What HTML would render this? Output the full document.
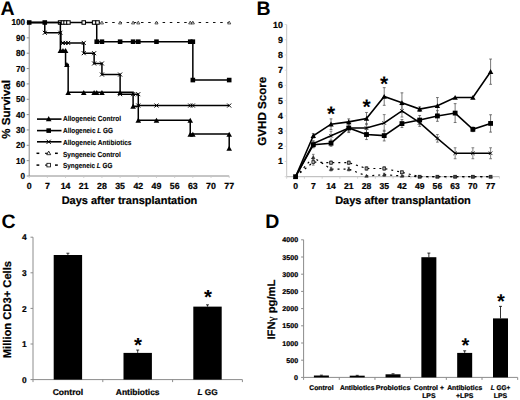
<!DOCTYPE html>
<html><head><meta charset="utf-8"><style>
html,body{margin:0;padding:0;background:#fff;}
body{width:520px;height:400px;overflow:hidden;}
svg{display:block;font-family:"Liberation Sans", sans-serif;text-rendering:geometricPrecision;}
text{stroke:#000;stroke-width:0.22px;}
</style></head><body>
<svg width="520" height="400" viewBox="0 0 520 400">
<rect width="520" height="400" fill="#fff"/>
<text x="0.6" y="15.1" font-size="19.5" text-anchor="start" font-weight="bold" style="stroke:none">A</text>
<line x1="29.2" y1="22.5" x2="29.2" y2="176" stroke="#8c8c8c" stroke-width="1" />
<line x1="29.2" y1="176" x2="229.2" y2="176" stroke="#8c8c8c" stroke-width="1" />
<line x1="26.7" y1="176" x2="29.2" y2="176" stroke="#8c8c8c" stroke-width="1" />
<text x="25.1" y="178.95" font-size="8.7" text-anchor="end" font-weight="bold"  textLength="4.55" lengthAdjust="spacingAndGlyphs">0</text>
<line x1="26.7" y1="160.65" x2="29.2" y2="160.65" stroke="#8c8c8c" stroke-width="1" />
<text x="25.1" y="163.6" font-size="8.7" text-anchor="end" font-weight="bold"  textLength="9.1" lengthAdjust="spacingAndGlyphs">10</text>
<line x1="26.7" y1="145.3" x2="29.2" y2="145.3" stroke="#8c8c8c" stroke-width="1" />
<text x="25.1" y="148.25" font-size="8.7" text-anchor="end" font-weight="bold"  textLength="9.1" lengthAdjust="spacingAndGlyphs">20</text>
<line x1="26.7" y1="129.95" x2="29.2" y2="129.95" stroke="#8c8c8c" stroke-width="1" />
<text x="25.1" y="132.9" font-size="8.7" text-anchor="end" font-weight="bold"  textLength="9.1" lengthAdjust="spacingAndGlyphs">30</text>
<line x1="26.7" y1="114.6" x2="29.2" y2="114.6" stroke="#8c8c8c" stroke-width="1" />
<text x="25.1" y="117.55" font-size="8.7" text-anchor="end" font-weight="bold"  textLength="9.1" lengthAdjust="spacingAndGlyphs">40</text>
<line x1="26.7" y1="99.25" x2="29.2" y2="99.25" stroke="#8c8c8c" stroke-width="1" />
<text x="25.1" y="102.2" font-size="8.7" text-anchor="end" font-weight="bold"  textLength="9.1" lengthAdjust="spacingAndGlyphs">50</text>
<line x1="26.7" y1="83.9" x2="29.2" y2="83.9" stroke="#8c8c8c" stroke-width="1" />
<text x="25.1" y="86.85" font-size="8.7" text-anchor="end" font-weight="bold"  textLength="9.1" lengthAdjust="spacingAndGlyphs">60</text>
<line x1="26.7" y1="68.55" x2="29.2" y2="68.55" stroke="#8c8c8c" stroke-width="1" />
<text x="25.1" y="71.5" font-size="8.7" text-anchor="end" font-weight="bold"  textLength="9.1" lengthAdjust="spacingAndGlyphs">70</text>
<line x1="26.7" y1="53.2" x2="29.2" y2="53.2" stroke="#8c8c8c" stroke-width="1" />
<text x="25.1" y="56.15" font-size="8.7" text-anchor="end" font-weight="bold"  textLength="9.1" lengthAdjust="spacingAndGlyphs">80</text>
<line x1="26.7" y1="37.85" x2="29.2" y2="37.85" stroke="#8c8c8c" stroke-width="1" />
<text x="25.1" y="40.8" font-size="8.7" text-anchor="end" font-weight="bold"  textLength="9.1" lengthAdjust="spacingAndGlyphs">90</text>
<line x1="26.7" y1="22.5" x2="29.2" y2="22.5" stroke="#8c8c8c" stroke-width="1" />
<text x="25.1" y="25.45" font-size="8.7" text-anchor="end" font-weight="bold"  textLength="13.65" lengthAdjust="spacingAndGlyphs">100</text>
<line x1="29.2" y1="176" x2="29.2" y2="178" stroke="#c8c8c8" stroke-width="0.8" />
<text x="29.2" y="189.3" font-size="8.8" text-anchor="middle" font-weight="bold" >0</text>
<line x1="47.38" y1="176" x2="47.38" y2="178" stroke="#c8c8c8" stroke-width="0.8" />
<text x="47.38" y="189.3" font-size="8.8" text-anchor="middle" font-weight="bold" >7</text>
<line x1="65.56" y1="176" x2="65.56" y2="178" stroke="#c8c8c8" stroke-width="0.8" />
<text x="65.56" y="189.3" font-size="8.8" text-anchor="middle" font-weight="bold" >14</text>
<line x1="83.75" y1="176" x2="83.75" y2="178" stroke="#c8c8c8" stroke-width="0.8" />
<text x="83.75" y="189.3" font-size="8.8" text-anchor="middle" font-weight="bold" >21</text>
<line x1="101.93" y1="176" x2="101.93" y2="178" stroke="#c8c8c8" stroke-width="0.8" />
<text x="101.93" y="189.3" font-size="8.8" text-anchor="middle" font-weight="bold" >28</text>
<line x1="120.11" y1="176" x2="120.11" y2="178" stroke="#c8c8c8" stroke-width="0.8" />
<text x="120.11" y="189.3" font-size="8.8" text-anchor="middle" font-weight="bold" >35</text>
<line x1="138.29" y1="176" x2="138.29" y2="178" stroke="#c8c8c8" stroke-width="0.8" />
<text x="138.29" y="189.3" font-size="8.8" text-anchor="middle" font-weight="bold" >42</text>
<line x1="156.47" y1="176" x2="156.47" y2="178" stroke="#c8c8c8" stroke-width="0.8" />
<text x="156.47" y="189.3" font-size="8.8" text-anchor="middle" font-weight="bold" >49</text>
<line x1="174.65" y1="176" x2="174.65" y2="178" stroke="#c8c8c8" stroke-width="0.8" />
<text x="174.65" y="189.3" font-size="8.8" text-anchor="middle" font-weight="bold" >56</text>
<line x1="192.84" y1="176" x2="192.84" y2="178" stroke="#c8c8c8" stroke-width="0.8" />
<text x="192.84" y="189.3" font-size="8.8" text-anchor="middle" font-weight="bold" >63</text>
<line x1="211.02" y1="176" x2="211.02" y2="178" stroke="#c8c8c8" stroke-width="0.8" />
<text x="211.02" y="189.3" font-size="8.8" text-anchor="middle" font-weight="bold" >70</text>
<line x1="229.2" y1="176" x2="229.2" y2="178" stroke="#c8c8c8" stroke-width="0.8" />
<text x="229.2" y="189.3" font-size="8.8" text-anchor="middle" font-weight="bold" >77</text>
<text x="129.5" y="203.8" font-size="11" text-anchor="middle" font-weight="bold" >Days after transplantation</text>
<text transform="translate(10.2,109.4) rotate(-90)" font-size="11.6" font-weight="bold" text-anchor="middle">% Survival</text>
<line x1="29.2" y1="22.5" x2="229.2" y2="22.5" stroke="#111" stroke-width="1.2" stroke-dasharray="2.5 4.7" stroke-dashoffset="-3.8"/>
<path d="M101.93 21.1 L103.53 23.98 L100.33 23.98Z" fill="#ddd" stroke="#222" stroke-width="0.7"/>
<path d="M120.11 21.1 L121.71 23.98 L118.51 23.98Z" fill="#ddd" stroke="#222" stroke-width="0.7"/>
<path d="M133.1 21.1 L134.7 23.98 L131.5 23.98Z" fill="#ddd" stroke="#222" stroke-width="0.7"/>
<path d="M138.29 21.1 L139.89 23.98 L136.69 23.98Z" fill="#ddd" stroke="#222" stroke-width="0.7"/>
<path d="M156.47 21.1 L158.07 23.98 L154.87 23.98Z" fill="#ddd" stroke="#222" stroke-width="0.7"/>
<path d="M190.24 21.1 L191.84 23.98 L188.64 23.98Z" fill="#ddd" stroke="#222" stroke-width="0.7"/>
<path d="M192.84 21.1 L194.44 23.98 L191.24 23.98Z" fill="#ddd" stroke="#222" stroke-width="0.7"/>
<path d="M229.2 21.1 L230.8 23.98 L227.6 23.98Z" fill="#ddd" stroke="#222" stroke-width="0.7"/>
<polyline fill="none" stroke="#000" stroke-width="1.5" points="29.2,22.5 96.73,22.5 96.73,41.69 192.84,41.69 192.84,80.06 229.2,80.06"/>
<rect x="58.36" y="20.75" width="3.5" height="3.5" fill="#fff" stroke="#000" stroke-width="1.05"/>
<rect x="61.22" y="20.75" width="3.5" height="3.5" fill="#fff" stroke="#000" stroke-width="1.05"/>
<rect x="63.81" y="20.75" width="3.5" height="3.5" fill="#fff" stroke="#000" stroke-width="1.05"/>
<rect x="66.67" y="20.75" width="3.5" height="3.5" fill="#fff" stroke="#000" stroke-width="1.05"/>
<rect x="82" y="20.75" width="3.5" height="3.5" fill="#fff" stroke="#000" stroke-width="1.05"/>
<rect x="92.39" y="20.75" width="3.5" height="3.5" fill="#fff" stroke="#000" stroke-width="1.05"/>
<rect x="95.76" y="20.75" width="3.5" height="3.5" fill="#fff" stroke="#000" stroke-width="1.05"/>
<rect x="26.9" y="20.2" width="4.6" height="4.6" fill="#000" stroke="none" stroke-width="0"/>
<rect x="42.48" y="20.2" width="4.6" height="4.6" fill="#000" stroke="none" stroke-width="0"/>
<rect x="94.43" y="39.39" width="4.6" height="4.6" fill="#000" stroke="none" stroke-width="0"/>
<rect x="99.63" y="39.39" width="4.6" height="4.6" fill="#000" stroke="none" stroke-width="0"/>
<rect x="117.81" y="39.39" width="4.6" height="4.6" fill="#000" stroke="none" stroke-width="0"/>
<rect x="130.8" y="39.39" width="4.6" height="4.6" fill="#000" stroke="none" stroke-width="0"/>
<rect x="135.99" y="39.39" width="4.6" height="4.6" fill="#000" stroke="none" stroke-width="0"/>
<rect x="154.17" y="39.39" width="4.6" height="4.6" fill="#000" stroke="none" stroke-width="0"/>
<rect x="187.94" y="39.39" width="4.6" height="4.6" fill="#000" stroke="none" stroke-width="0"/>
<rect x="190.54" y="39.39" width="4.6" height="4.6" fill="#000" stroke="none" stroke-width="0"/>
<rect x="190.54" y="77.76" width="4.6" height="4.6" fill="#000" stroke="none" stroke-width="0"/>
<rect x="226.9" y="77.76" width="4.6" height="4.6" fill="#000" stroke="none" stroke-width="0"/>
<polyline fill="none" stroke="#000" stroke-width="1.5" points="29.2,22.5 44.78,22.5 44.78,32.78 60.89,32.78 60.89,42.92 83.75,42.92 83.75,53.2 94.14,53.2 94.14,63.48 101.93,63.48 101.93,74.54 120.11,74.54 120.11,94.18 138.29,94.18 138.29,105.54 229.2,105.54"/>
<path d="M42.78 30.78 L46.78 34.78 M46.78 30.78 L42.78 34.78" stroke="#000" stroke-width="1.0"/>
<path d="M58.37 30.78 L62.37 34.78 M62.37 30.78 L58.37 34.78" stroke="#000" stroke-width="1.0"/>
<path d="M60.97 40.92 L64.97 44.92 M64.97 40.92 L60.97 44.92" stroke="#000" stroke-width="1.0"/>
<path d="M63.56 40.92 L67.56 44.92 M67.56 40.92 L63.56 44.92" stroke="#000" stroke-width="1.0"/>
<path d="M66.16 40.92 L70.16 44.92 M70.16 40.92 L66.16 44.92" stroke="#000" stroke-width="1.0"/>
<path d="M81.75 40.92 L85.75 44.92 M85.75 40.92 L81.75 44.92" stroke="#000" stroke-width="1.0"/>
<path d="M81.75 51.2 L85.75 55.2 M85.75 51.2 L81.75 55.2" stroke="#000" stroke-width="1.0"/>
<path d="M92.14 51.2 L96.14 55.2 M96.14 51.2 L92.14 55.2" stroke="#000" stroke-width="1.0"/>
<path d="M92.14 61.48 L96.14 65.48 M96.14 61.48 L92.14 65.48" stroke="#000" stroke-width="1.0"/>
<path d="M99.93 61.48 L103.93 65.48 M103.93 61.48 L99.93 65.48" stroke="#000" stroke-width="1.0"/>
<path d="M99.93 72.54 L103.93 76.54 M103.93 72.54 L99.93 76.54" stroke="#000" stroke-width="1.0"/>
<path d="M118.11 72.54 L122.11 76.54 M122.11 72.54 L118.11 76.54" stroke="#000" stroke-width="1.0"/>
<path d="M118.11 92.18 L122.11 96.18 M122.11 92.18 L118.11 96.18" stroke="#000" stroke-width="1.0"/>
<path d="M131.1 92.18 L135.1 96.18 M135.1 92.18 L131.1 96.18" stroke="#000" stroke-width="1.0"/>
<path d="M136.29 92.18 L140.29 96.18 M140.29 92.18 L136.29 96.18" stroke="#000" stroke-width="1.0"/>
<path d="M136.29 103.54 L140.29 107.54 M140.29 103.54 L136.29 107.54" stroke="#000" stroke-width="1.0"/>
<path d="M154.47 103.54 L158.47 107.54 M158.47 103.54 L154.47 107.54" stroke="#000" stroke-width="1.0"/>
<path d="M188.24 103.54 L192.24 107.54 M192.24 103.54 L188.24 107.54" stroke="#000" stroke-width="1.0"/>
<path d="M190.84 103.54 L194.84 107.54 M194.84 103.54 L190.84 107.54" stroke="#000" stroke-width="1.0"/>
<path d="M227.2 103.54 L231.2 107.54 M231.2 103.54 L227.2 107.54" stroke="#000" stroke-width="1.0"/>
<polyline fill="none" stroke="#000" stroke-width="1.5" points="29.2,22.5 60.37,22.5 60.37,50.44 65.56,50.44 65.56,64.41 68.16,64.41 68.16,92.34 133.1,92.34 133.1,106.16 138.29,106.16 138.29,120.13 190.24,120.13 190.24,134.09 229.2,134.09 229.2,148.06"/>
<path d="M60.37 48.04 L63.17 53.08 L57.57 53.08Z" fill="#000" stroke="none" stroke-width="0"/>
<path d="M62.97 48.04 L65.77 53.08 L60.17 53.08Z" fill="#000" stroke="none" stroke-width="0"/>
<path d="M65.56 48.04 L68.36 53.08 L62.76 53.08Z" fill="#000" stroke="none" stroke-width="0"/>
<path d="M66.86 62.01 L69.66 67.05 L64.06 67.05Z" fill="#000" stroke="none" stroke-width="0"/>
<path d="M68.16 89.94 L70.96 94.98 L65.36 94.98Z" fill="#000" stroke="none" stroke-width="0"/>
<path d="M83.75 89.94 L86.55 94.98 L80.95 94.98Z" fill="#000" stroke="none" stroke-width="0"/>
<path d="M94.14 89.94 L96.94 94.98 L91.34 94.98Z" fill="#000" stroke="none" stroke-width="0"/>
<path d="M96.73 89.94 L99.53 94.98 L93.93 94.98Z" fill="#000" stroke="none" stroke-width="0"/>
<path d="M101.93 89.94 L104.73 94.98 L99.13 94.98Z" fill="#000" stroke="none" stroke-width="0"/>
<path d="M120.11 89.94 L122.91 94.98 L117.31 94.98Z" fill="#000" stroke="none" stroke-width="0"/>
<path d="M133.1 103.76 L135.9 108.8 L130.3 108.8Z" fill="#000" stroke="none" stroke-width="0"/>
<path d="M138.29 117.73 L141.09 122.77 L135.49 122.77Z" fill="#000" stroke="none" stroke-width="0"/>
<path d="M156.47 117.73 L159.27 122.77 L153.67 122.77Z" fill="#000" stroke="none" stroke-width="0"/>
<path d="M190.24 117.73 L193.04 122.77 L187.44 122.77Z" fill="#000" stroke="none" stroke-width="0"/>
<path d="M190.24 131.69 L193.04 136.73 L187.44 136.73Z" fill="#000" stroke="none" stroke-width="0"/>
<path d="M192.84 131.69 L195.64 136.73 L190.04 136.73Z" fill="#000" stroke="none" stroke-width="0"/>
<path d="M229.2 131.69 L232 136.73 L226.4 136.73Z" fill="#000" stroke="none" stroke-width="0"/>
<path d="M229.2 145.66 L232 150.7 L226.4 150.7Z" fill="#000" stroke="none" stroke-width="0"/>
<line x1="37" y1="119.1" x2="61.5" y2="119.1" stroke="#000" stroke-width="1.6" />
<path d="M48.7 116.1 L51.5 121.14 L45.9 121.14Z" fill="#000" stroke="none" stroke-width="0"/>
<text x="63" y="121.4" font-size="7.3" text-anchor="start" font-weight="bold" style="stroke-width:0.1px" textLength="58" lengthAdjust="spacingAndGlyphs">Allogeneic Control</text>
<line x1="37" y1="130.6" x2="61.5" y2="130.6" stroke="#000" stroke-width="1.6" />
<rect x="46.4" y="128.3" width="4.6" height="4.6" fill="#000" stroke="none" stroke-width="0"/>
<text x="63" y="133.3" font-size="7.3" text-anchor="start" font-weight="bold" style="stroke-width:0.1px" textLength="50" lengthAdjust="spacingAndGlyphs">Allogeneic <tspan font-style="italic">L</tspan> GG</text>
<line x1="37" y1="141.8" x2="61.5" y2="141.8" stroke="#000" stroke-width="1.6" />
<path d="M46.6 139.7 L50.8 143.9 M50.8 139.7 L46.6 143.9" stroke="#000" stroke-width="1.0"/>
<text x="63" y="144.8" font-size="7.3" text-anchor="start" font-weight="bold" style="stroke-width:0.1px" textLength="68.5" lengthAdjust="spacingAndGlyphs">Allogeneic Antibiotics</text>
<line x1="36.5" y1="153.3" x2="39.3" y2="153.3" stroke="#000" stroke-width="1.5" />
<line x1="55" y1="153.3" x2="57.8" y2="153.3" stroke="#000" stroke-width="1.5" />
<line x1="45" y1="153.3" x2="48.5" y2="153.3" stroke="#000" stroke-width="1.1" />
<path d="M48.7 151.1 L50.7 154.7 L46.7 154.7Z" fill="#fff" stroke="#000" stroke-width="0.8"/>
<text x="63" y="156.5" font-size="7.3" text-anchor="start" font-weight="bold" style="stroke-width:0.1px" textLength="57.7" lengthAdjust="spacingAndGlyphs">Syngeneic Control</text>
<line x1="36.5" y1="165.1" x2="39.3" y2="165.1" stroke="#000" stroke-width="1.5" />
<line x1="55" y1="165.1" x2="57.8" y2="165.1" stroke="#000" stroke-width="1.5" />
<line x1="45" y1="165.1" x2="48.5" y2="165.1" stroke="#000" stroke-width="1.1" />
<rect x="46.9" y="163.3" width="3.6" height="3.6" fill="#fff" stroke="#000" stroke-width="0.8"/>
<text x="63" y="167.9" font-size="7.3" text-anchor="start" font-weight="bold" style="stroke-width:0.1px" textLength="49.5" lengthAdjust="spacingAndGlyphs">Syngeneic <tspan font-style="italic">L</tspan> GG</text>
<text x="256.6" y="15.1" font-size="19.5" text-anchor="start" font-weight="bold" style="stroke:none">B</text>
<line x1="286.7" y1="24.5" x2="286.7" y2="176.7" stroke="#c4c4c4" stroke-width="1" />
<line x1="286.7" y1="176.7" x2="499.46" y2="176.7" stroke="#b4b4b4" stroke-width="1" />
<line x1="284.7" y1="176.7" x2="286.7" y2="176.7" stroke="#d0d0d0" stroke-width="0.8" />
<line x1="284.7" y1="161.48" x2="286.7" y2="161.48" stroke="#d0d0d0" stroke-width="0.8" />
<text x="282.8" y="164.48" font-size="8.8" text-anchor="end" font-weight="bold" >1</text>
<line x1="284.7" y1="146.26" x2="286.7" y2="146.26" stroke="#d0d0d0" stroke-width="0.8" />
<text x="282.8" y="149.26" font-size="8.8" text-anchor="end" font-weight="bold" >2</text>
<line x1="284.7" y1="131.04" x2="286.7" y2="131.04" stroke="#d0d0d0" stroke-width="0.8" />
<text x="282.8" y="134.04" font-size="8.8" text-anchor="end" font-weight="bold" >3</text>
<line x1="284.7" y1="115.82" x2="286.7" y2="115.82" stroke="#d0d0d0" stroke-width="0.8" />
<text x="282.8" y="118.82" font-size="8.8" text-anchor="end" font-weight="bold" >4</text>
<line x1="284.7" y1="100.6" x2="286.7" y2="100.6" stroke="#d0d0d0" stroke-width="0.8" />
<text x="282.8" y="103.6" font-size="8.8" text-anchor="end" font-weight="bold" >5</text>
<line x1="284.7" y1="85.38" x2="286.7" y2="85.38" stroke="#d0d0d0" stroke-width="0.8" />
<text x="282.8" y="88.38" font-size="8.8" text-anchor="end" font-weight="bold" >6</text>
<line x1="284.7" y1="70.16" x2="286.7" y2="70.16" stroke="#d0d0d0" stroke-width="0.8" />
<text x="282.8" y="73.16" font-size="8.8" text-anchor="end" font-weight="bold" >7</text>
<line x1="284.7" y1="54.94" x2="286.7" y2="54.94" stroke="#d0d0d0" stroke-width="0.8" />
<text x="282.8" y="57.94" font-size="8.8" text-anchor="end" font-weight="bold" >8</text>
<line x1="284.7" y1="39.72" x2="286.7" y2="39.72" stroke="#d0d0d0" stroke-width="0.8" />
<text x="282.8" y="42.72" font-size="8.8" text-anchor="end" font-weight="bold" >9</text>
<line x1="284.7" y1="24.5" x2="286.7" y2="24.5" stroke="#d0d0d0" stroke-width="0.8" />
<text x="282.8" y="27.5" font-size="8.8" text-anchor="end" font-weight="bold" >10</text>
<line x1="286.7" y1="176.7" x2="286.7" y2="178.7" stroke="#c8c8c8" stroke-width="0.8" />
<line x1="304.43" y1="176.7" x2="304.43" y2="178.7" stroke="#c8c8c8" stroke-width="0.8" />
<line x1="322.16" y1="176.7" x2="322.16" y2="178.7" stroke="#c8c8c8" stroke-width="0.8" />
<line x1="339.89" y1="176.7" x2="339.89" y2="178.7" stroke="#c8c8c8" stroke-width="0.8" />
<line x1="357.62" y1="176.7" x2="357.62" y2="178.7" stroke="#c8c8c8" stroke-width="0.8" />
<line x1="375.35" y1="176.7" x2="375.35" y2="178.7" stroke="#c8c8c8" stroke-width="0.8" />
<line x1="393.08" y1="176.7" x2="393.08" y2="178.7" stroke="#c8c8c8" stroke-width="0.8" />
<line x1="410.81" y1="176.7" x2="410.81" y2="178.7" stroke="#c8c8c8" stroke-width="0.8" />
<line x1="428.54" y1="176.7" x2="428.54" y2="178.7" stroke="#c8c8c8" stroke-width="0.8" />
<line x1="446.27" y1="176.7" x2="446.27" y2="178.7" stroke="#c8c8c8" stroke-width="0.8" />
<line x1="464" y1="176.7" x2="464" y2="178.7" stroke="#c8c8c8" stroke-width="0.8" />
<line x1="481.73" y1="176.7" x2="481.73" y2="178.7" stroke="#c8c8c8" stroke-width="0.8" />
<line x1="499.46" y1="176.7" x2="499.46" y2="178.7" stroke="#c8c8c8" stroke-width="0.8" />
<text x="295.56" y="188.7" font-size="8.6" text-anchor="middle" font-weight="bold" >0</text>
<text x="313.29" y="188.7" font-size="8.6" text-anchor="middle" font-weight="bold" >7</text>
<text x="331.02" y="188.7" font-size="8.6" text-anchor="middle" font-weight="bold" >14</text>
<text x="348.75" y="188.7" font-size="8.6" text-anchor="middle" font-weight="bold" >21</text>
<text x="366.49" y="188.7" font-size="8.6" text-anchor="middle" font-weight="bold" >28</text>
<text x="384.21" y="188.7" font-size="8.6" text-anchor="middle" font-weight="bold" >35</text>
<text x="401.94" y="188.7" font-size="8.6" text-anchor="middle" font-weight="bold" >42</text>
<text x="419.67" y="188.7" font-size="8.6" text-anchor="middle" font-weight="bold" >49</text>
<text x="437.4" y="188.7" font-size="8.6" text-anchor="middle" font-weight="bold" >56</text>
<text x="455.13" y="188.7" font-size="8.6" text-anchor="middle" font-weight="bold" >63</text>
<text x="472.87" y="188.7" font-size="8.6" text-anchor="middle" font-weight="bold" >70</text>
<text x="490.6" y="188.7" font-size="8.6" text-anchor="middle" font-weight="bold" >77</text>
<text x="403" y="203.8" font-size="11" text-anchor="middle" font-weight="bold" >Days after transplantation</text>
<text transform="translate(266.3,111.2) rotate(-90)" font-size="11.6" font-weight="bold" text-anchor="middle">GVHD Score</text>
<polyline fill="none" stroke="#000" stroke-width="1.2" stroke-dasharray="2 4" points="295.56,176.7 313.29,157.37 331.02,169.09 348.75,169.09 366.49,175.94 384.21,174.72 401.94,175.94 419.67,176.7 437.4,176.7 455.13,176.7 472.87,176.7 490.6,176.7"/>
<polyline fill="none" stroke="#000" stroke-width="1.2" stroke-dasharray="2 4" points="295.56,176.7 313.29,162.09 331.02,162.7 348.75,162.7 366.49,168.48 384.21,168.48 401.94,172.29 419.67,176.7 437.4,176.7 455.13,176.7 472.87,176.7 490.6,176.7"/>
<line x1="313.29" y1="154.33" x2="313.29" y2="160.41" stroke="#555" stroke-width="0.7" />
<line x1="311.99" y1="154.33" x2="314.59" y2="154.33" stroke="#555" stroke-width="0.7" />
<line x1="311.99" y1="160.41" x2="314.59" y2="160.41" stroke="#555" stroke-width="0.7" />
<line x1="313.29" y1="159.04" x2="313.29" y2="165.13" stroke="#555" stroke-width="0.7" />
<line x1="311.99" y1="159.04" x2="314.59" y2="159.04" stroke="#555" stroke-width="0.7" />
<line x1="311.99" y1="165.13" x2="314.59" y2="165.13" stroke="#555" stroke-width="0.7" />
<line x1="331.02" y1="160.87" x2="331.02" y2="164.52" stroke="#555" stroke-width="0.7" />
<line x1="329.72" y1="160.87" x2="332.32" y2="160.87" stroke="#555" stroke-width="0.7" />
<line x1="329.72" y1="164.52" x2="332.32" y2="164.52" stroke="#555" stroke-width="0.7" />
<line x1="331.02" y1="167.26" x2="331.02" y2="170.92" stroke="#555" stroke-width="0.7" />
<line x1="329.72" y1="167.26" x2="332.32" y2="167.26" stroke="#555" stroke-width="0.7" />
<line x1="329.72" y1="170.92" x2="332.32" y2="170.92" stroke="#555" stroke-width="0.7" />
<line x1="348.75" y1="160.87" x2="348.75" y2="164.52" stroke="#555" stroke-width="0.7" />
<line x1="347.45" y1="160.87" x2="350.06" y2="160.87" stroke="#555" stroke-width="0.7" />
<line x1="347.45" y1="164.52" x2="350.06" y2="164.52" stroke="#555" stroke-width="0.7" />
<line x1="348.75" y1="167.26" x2="348.75" y2="170.92" stroke="#555" stroke-width="0.7" />
<line x1="347.45" y1="167.26" x2="350.06" y2="167.26" stroke="#555" stroke-width="0.7" />
<line x1="347.45" y1="170.92" x2="350.06" y2="170.92" stroke="#555" stroke-width="0.7" />
<line x1="366.49" y1="166.65" x2="366.49" y2="170.31" stroke="#555" stroke-width="0.7" />
<line x1="365.19" y1="166.65" x2="367.79" y2="166.65" stroke="#555" stroke-width="0.7" />
<line x1="365.19" y1="170.31" x2="367.79" y2="170.31" stroke="#555" stroke-width="0.7" />
<line x1="384.21" y1="166.65" x2="384.21" y2="170.31" stroke="#555" stroke-width="0.7" />
<line x1="382.91" y1="166.65" x2="385.51" y2="166.65" stroke="#555" stroke-width="0.7" />
<line x1="382.91" y1="170.31" x2="385.51" y2="170.31" stroke="#555" stroke-width="0.7" />
<line x1="384.21" y1="173.2" x2="384.21" y2="176.24" stroke="#555" stroke-width="0.7" />
<line x1="382.91" y1="173.2" x2="385.51" y2="173.2" stroke="#555" stroke-width="0.7" />
<line x1="382.91" y1="176.24" x2="385.51" y2="176.24" stroke="#555" stroke-width="0.7" />
<line x1="401.94" y1="170.76" x2="401.94" y2="173.81" stroke="#555" stroke-width="0.7" />
<line x1="400.64" y1="170.76" x2="403.25" y2="170.76" stroke="#555" stroke-width="0.7" />
<line x1="400.64" y1="173.81" x2="403.25" y2="173.81" stroke="#555" stroke-width="0.7" />
<path d="M313.29 155.67 L314.99 158.73 L311.59 158.73Z" fill="#333" stroke="#222" stroke-width="0.5"/>
<path d="M331.02 167.39 L332.72 170.45 L329.32 170.45Z" fill="#333" stroke="#222" stroke-width="0.5"/>
<path d="M348.75 167.39 L350.45 170.45 L347.06 170.45Z" fill="#333" stroke="#222" stroke-width="0.5"/>
<path d="M366.49 174.24 L368.19 177.3 L364.79 177.3Z" fill="#333" stroke="#222" stroke-width="0.5"/>
<path d="M384.21 173.02 L385.91 176.08 L382.51 176.08Z" fill="#333" stroke="#222" stroke-width="0.5"/>
<path d="M401.94 174.24 L403.64 177.3 L400.25 177.3Z" fill="#333" stroke="#222" stroke-width="0.5"/>
<path d="M419.67 175 L421.37 178.06 L417.97 178.06Z" fill="#333" stroke="#222" stroke-width="0.5"/>
<path d="M437.4 175 L439.1 178.06 L435.7 178.06Z" fill="#333" stroke="#222" stroke-width="0.5"/>
<path d="M455.13 175 L456.83 178.06 L453.44 178.06Z" fill="#333" stroke="#222" stroke-width="0.5"/>
<path d="M472.87 175 L474.56 178.06 L471.17 178.06Z" fill="#333" stroke="#222" stroke-width="0.5"/>
<path d="M490.6 175 L492.3 178.06 L488.9 178.06Z" fill="#333" stroke="#222" stroke-width="0.5"/>
<rect x="311.89" y="160.69" width="2.8" height="2.8" fill="#aaa" stroke="#222" stroke-width="0.8"/>
<rect x="329.62" y="161.3" width="2.8" height="2.8" fill="#aaa" stroke="#222" stroke-width="0.8"/>
<rect x="347.36" y="161.3" width="2.8" height="2.8" fill="#aaa" stroke="#222" stroke-width="0.8"/>
<rect x="365.09" y="167.08" width="2.8" height="2.8" fill="#aaa" stroke="#222" stroke-width="0.8"/>
<rect x="382.81" y="167.08" width="2.8" height="2.8" fill="#aaa" stroke="#222" stroke-width="0.8"/>
<rect x="400.55" y="170.89" width="2.8" height="2.8" fill="#aaa" stroke="#222" stroke-width="0.8"/>
<rect x="418.27" y="175.3" width="2.8" height="2.8" fill="#444" stroke="#222" stroke-width="0.8"/>
<rect x="436" y="175.3" width="2.8" height="2.8" fill="#444" stroke="#222" stroke-width="0.8"/>
<rect x="453.74" y="175.3" width="2.8" height="2.8" fill="#444" stroke="#222" stroke-width="0.8"/>
<rect x="471.47" y="175.3" width="2.8" height="2.8" fill="#444" stroke="#222" stroke-width="0.8"/>
<rect x="489.2" y="175.3" width="2.8" height="2.8" fill="#444" stroke="#222" stroke-width="0.8"/>
<line x1="313.29" y1="140.63" x2="313.29" y2="146.72" stroke="#666" stroke-width="0.8" />
<line x1="311.89" y1="140.63" x2="314.69" y2="140.63" stroke="#666" stroke-width="0.8" />
<line x1="311.89" y1="146.72" x2="314.69" y2="146.72" stroke="#666" stroke-width="0.8" />
<line x1="331.02" y1="131.19" x2="331.02" y2="140.32" stroke="#666" stroke-width="0.8" />
<line x1="329.62" y1="131.19" x2="332.42" y2="131.19" stroke="#666" stroke-width="0.8" />
<line x1="329.62" y1="140.32" x2="332.42" y2="140.32" stroke="#666" stroke-width="0.8" />
<line x1="348.75" y1="124.19" x2="348.75" y2="131.8" stroke="#666" stroke-width="0.8" />
<line x1="347.36" y1="124.19" x2="350.15" y2="124.19" stroke="#666" stroke-width="0.8" />
<line x1="347.36" y1="131.8" x2="350.15" y2="131.8" stroke="#666" stroke-width="0.8" />
<line x1="366.49" y1="123.43" x2="366.49" y2="132.56" stroke="#666" stroke-width="0.8" />
<line x1="365.09" y1="123.43" x2="367.88" y2="123.43" stroke="#666" stroke-width="0.8" />
<line x1="365.09" y1="132.56" x2="367.88" y2="132.56" stroke="#666" stroke-width="0.8" />
<line x1="384.21" y1="114.6" x2="384.21" y2="131.34" stroke="#666" stroke-width="0.8" />
<line x1="382.81" y1="114.6" x2="385.61" y2="114.6" stroke="#666" stroke-width="0.8" />
<line x1="382.81" y1="131.34" x2="385.61" y2="131.34" stroke="#666" stroke-width="0.8" />
<line x1="401.94" y1="104.86" x2="401.94" y2="117.04" stroke="#666" stroke-width="0.8" />
<line x1="400.55" y1="104.86" x2="403.34" y2="104.86" stroke="#666" stroke-width="0.8" />
<line x1="400.55" y1="117.04" x2="403.34" y2="117.04" stroke="#666" stroke-width="0.8" />
<line x1="419.67" y1="118.86" x2="419.67" y2="126.47" stroke="#666" stroke-width="0.8" />
<line x1="418.27" y1="118.86" x2="421.07" y2="118.86" stroke="#666" stroke-width="0.8" />
<line x1="418.27" y1="126.47" x2="421.07" y2="126.47" stroke="#666" stroke-width="0.8" />
<line x1="437.4" y1="134.54" x2="437.4" y2="142.15" stroke="#666" stroke-width="0.8" />
<line x1="436" y1="134.54" x2="438.8" y2="134.54" stroke="#666" stroke-width="0.8" />
<line x1="436" y1="142.15" x2="438.8" y2="142.15" stroke="#666" stroke-width="0.8" />
<line x1="455.13" y1="147.78" x2="455.13" y2="158.74" stroke="#666" stroke-width="0.8" />
<line x1="453.74" y1="147.78" x2="456.53" y2="147.78" stroke="#666" stroke-width="0.8" />
<line x1="453.74" y1="158.74" x2="456.53" y2="158.74" stroke="#666" stroke-width="0.8" />
<line x1="472.87" y1="147.78" x2="472.87" y2="158.74" stroke="#666" stroke-width="0.8" />
<line x1="471.47" y1="147.78" x2="474.26" y2="147.78" stroke="#666" stroke-width="0.8" />
<line x1="471.47" y1="158.74" x2="474.26" y2="158.74" stroke="#666" stroke-width="0.8" />
<line x1="490.6" y1="147.78" x2="490.6" y2="158.74" stroke="#666" stroke-width="0.8" />
<line x1="489.2" y1="147.78" x2="492" y2="147.78" stroke="#666" stroke-width="0.8" />
<line x1="489.2" y1="158.74" x2="492" y2="158.74" stroke="#666" stroke-width="0.8" />
<line x1="313.29" y1="141.69" x2="313.29" y2="147.78" stroke="#555" stroke-width="0.8" />
<line x1="311.89" y1="141.69" x2="314.69" y2="141.69" stroke="#555" stroke-width="0.8" />
<line x1="311.89" y1="147.78" x2="314.69" y2="147.78" stroke="#555" stroke-width="0.8" />
<line x1="331.02" y1="140.17" x2="331.02" y2="146.26" stroke="#555" stroke-width="0.8" />
<line x1="329.62" y1="140.17" x2="332.42" y2="140.17" stroke="#555" stroke-width="0.8" />
<line x1="329.62" y1="146.26" x2="332.42" y2="146.26" stroke="#555" stroke-width="0.8" />
<line x1="348.75" y1="123.43" x2="348.75" y2="132.56" stroke="#555" stroke-width="0.8" />
<line x1="347.36" y1="123.43" x2="350.15" y2="123.43" stroke="#555" stroke-width="0.8" />
<line x1="347.36" y1="132.56" x2="350.15" y2="132.56" stroke="#555" stroke-width="0.8" />
<line x1="366.49" y1="129.52" x2="366.49" y2="139.56" stroke="#555" stroke-width="0.8" />
<line x1="365.09" y1="129.52" x2="367.88" y2="129.52" stroke="#555" stroke-width="0.8" />
<line x1="365.09" y1="139.56" x2="367.88" y2="139.56" stroke="#555" stroke-width="0.8" />
<line x1="384.21" y1="130.28" x2="384.21" y2="140.93" stroke="#555" stroke-width="0.8" />
<line x1="382.81" y1="130.28" x2="385.61" y2="130.28" stroke="#555" stroke-width="0.8" />
<line x1="382.81" y1="140.93" x2="385.61" y2="140.93" stroke="#555" stroke-width="0.8" />
<line x1="401.94" y1="119.62" x2="401.94" y2="127.54" stroke="#555" stroke-width="0.8" />
<line x1="400.55" y1="119.62" x2="403.34" y2="119.62" stroke="#555" stroke-width="0.8" />
<line x1="400.55" y1="127.54" x2="403.34" y2="127.54" stroke="#555" stroke-width="0.8" />
<line x1="419.67" y1="115.52" x2="419.67" y2="124.65" stroke="#555" stroke-width="0.8" />
<line x1="418.27" y1="115.52" x2="421.07" y2="115.52" stroke="#555" stroke-width="0.8" />
<line x1="418.27" y1="124.65" x2="421.07" y2="124.65" stroke="#555" stroke-width="0.8" />
<line x1="437.4" y1="110.65" x2="437.4" y2="121.3" stroke="#555" stroke-width="0.8" />
<line x1="436" y1="110.65" x2="438.8" y2="110.65" stroke="#555" stroke-width="0.8" />
<line x1="436" y1="121.3" x2="438.8" y2="121.3" stroke="#555" stroke-width="0.8" />
<line x1="455.13" y1="103.64" x2="455.13" y2="122.52" stroke="#555" stroke-width="0.8" />
<line x1="453.74" y1="103.64" x2="456.53" y2="103.64" stroke="#555" stroke-width="0.8" />
<line x1="453.74" y1="122.52" x2="456.53" y2="122.52" stroke="#555" stroke-width="0.8" />
<line x1="472.87" y1="127.08" x2="472.87" y2="131.65" stroke="#555" stroke-width="0.8" />
<line x1="471.47" y1="127.08" x2="474.26" y2="127.08" stroke="#555" stroke-width="0.8" />
<line x1="471.47" y1="131.65" x2="474.26" y2="131.65" stroke="#555" stroke-width="0.8" />
<line x1="490.6" y1="114.75" x2="490.6" y2="132.11" stroke="#555" stroke-width="0.8" />
<line x1="489.2" y1="114.75" x2="492" y2="114.75" stroke="#555" stroke-width="0.8" />
<line x1="489.2" y1="132.11" x2="492" y2="132.11" stroke="#555" stroke-width="0.8" />
<line x1="313.29" y1="133.48" x2="313.29" y2="138.04" stroke="#555" stroke-width="0.8" />
<line x1="311.89" y1="133.48" x2="314.69" y2="133.48" stroke="#555" stroke-width="0.8" />
<line x1="311.89" y1="138.04" x2="314.69" y2="138.04" stroke="#555" stroke-width="0.8" />
<line x1="331.02" y1="118.86" x2="331.02" y2="129.52" stroke="#555" stroke-width="0.8" />
<line x1="329.62" y1="118.86" x2="332.42" y2="118.86" stroke="#555" stroke-width="0.8" />
<line x1="329.62" y1="129.52" x2="332.42" y2="129.52" stroke="#555" stroke-width="0.8" />
<line x1="348.75" y1="118.86" x2="348.75" y2="124.95" stroke="#555" stroke-width="0.8" />
<line x1="347.36" y1="118.86" x2="350.15" y2="118.86" stroke="#555" stroke-width="0.8" />
<line x1="347.36" y1="124.95" x2="350.15" y2="124.95" stroke="#555" stroke-width="0.8" />
<line x1="366.49" y1="112.47" x2="366.49" y2="124.65" stroke="#555" stroke-width="0.8" />
<line x1="365.09" y1="112.47" x2="367.88" y2="112.47" stroke="#555" stroke-width="0.8" />
<line x1="365.09" y1="124.65" x2="367.88" y2="124.65" stroke="#555" stroke-width="0.8" />
<line x1="384.21" y1="87.66" x2="384.21" y2="105.32" stroke="#555" stroke-width="0.8" />
<line x1="382.81" y1="87.66" x2="385.61" y2="87.66" stroke="#555" stroke-width="0.8" />
<line x1="382.81" y1="105.32" x2="385.61" y2="105.32" stroke="#555" stroke-width="0.8" />
<line x1="401.94" y1="92.84" x2="401.94" y2="112.62" stroke="#555" stroke-width="0.8" />
<line x1="400.55" y1="92.84" x2="403.34" y2="92.84" stroke="#555" stroke-width="0.8" />
<line x1="400.55" y1="112.62" x2="403.34" y2="112.62" stroke="#555" stroke-width="0.8" />
<line x1="419.67" y1="106.84" x2="419.67" y2="111.41" stroke="#555" stroke-width="0.8" />
<line x1="418.27" y1="106.84" x2="421.07" y2="106.84" stroke="#555" stroke-width="0.8" />
<line x1="418.27" y1="111.41" x2="421.07" y2="111.41" stroke="#555" stroke-width="0.8" />
<line x1="437.4" y1="97.56" x2="437.4" y2="113.99" stroke="#555" stroke-width="0.8" />
<line x1="436" y1="97.56" x2="438.8" y2="97.56" stroke="#555" stroke-width="0.8" />
<line x1="436" y1="113.99" x2="438.8" y2="113.99" stroke="#555" stroke-width="0.8" />
<line x1="490.6" y1="59.05" x2="490.6" y2="84.31" stroke="#555" stroke-width="0.8" />
<line x1="489.2" y1="59.05" x2="492" y2="59.05" stroke="#555" stroke-width="0.8" />
<line x1="489.2" y1="84.31" x2="492" y2="84.31" stroke="#555" stroke-width="0.8" />
<polyline fill="none" stroke="#000" stroke-width="1.5" points="295.56,176.7 313.29,143.67 331.02,135.76 348.75,128 366.49,128 384.21,122.97 401.94,110.95 419.67,122.67 437.4,138.35 455.13,153.26 472.87,153.26 490.6,153.26"/>
<path d="M293.76 174.9 L297.37 178.5 M297.37 174.9 L293.76 178.5" stroke="#000" stroke-width="0.8"/>
<path d="M311.49 141.87 L315.09 145.47 M315.09 141.87 L311.49 145.47" stroke="#000" stroke-width="0.8"/>
<path d="M329.22 133.96 L332.82 137.56 M332.82 133.96 L329.22 137.56" stroke="#000" stroke-width="0.8"/>
<path d="M346.95 126.2 L350.56 129.8 M350.56 126.2 L346.95 129.8" stroke="#000" stroke-width="0.8"/>
<path d="M364.69 126.2 L368.29 129.8 M368.29 126.2 L364.69 129.8" stroke="#000" stroke-width="0.8"/>
<path d="M382.41 121.17 L386.01 124.77 M386.01 121.17 L382.41 124.77" stroke="#000" stroke-width="0.8"/>
<path d="M400.14 109.15 L403.75 112.75 M403.75 109.15 L400.14 112.75" stroke="#000" stroke-width="0.8"/>
<path d="M417.87 120.87 L421.47 124.47 M421.47 120.87 L417.87 124.47" stroke="#000" stroke-width="0.8"/>
<path d="M435.6 136.55 L439.2 140.15 M439.2 136.55 L435.6 140.15" stroke="#000" stroke-width="0.8"/>
<path d="M453.33 151.46 L456.94 155.06 M456.94 151.46 L453.33 155.06" stroke="#000" stroke-width="0.8"/>
<path d="M471.06 151.46 L474.67 155.06 M474.67 151.46 L471.06 155.06" stroke="#000" stroke-width="0.8"/>
<path d="M488.8 151.46 L492.4 155.06 M492.4 151.46 L488.8 155.06" stroke="#000" stroke-width="0.8"/>
<polyline fill="none" stroke="#000" stroke-width="1.6" points="295.56,176.7 313.29,144.74 331.02,143.22 348.75,128 366.49,134.54 384.21,135.61 401.94,123.58 419.67,120.08 437.4,115.97 455.13,113.08 472.87,129.37 490.6,123.43"/>
<rect x="293.17" y="174.3" width="4.8" height="4.8" fill="#000" stroke="none" stroke-width="0"/>
<rect x="310.89" y="142.34" width="4.8" height="4.8" fill="#000" stroke="none" stroke-width="0"/>
<rect x="328.62" y="140.82" width="4.8" height="4.8" fill="#000" stroke="none" stroke-width="0"/>
<rect x="346.36" y="125.6" width="4.8" height="4.8" fill="#000" stroke="none" stroke-width="0"/>
<rect x="364.09" y="132.14" width="4.8" height="4.8" fill="#000" stroke="none" stroke-width="0"/>
<rect x="381.81" y="133.21" width="4.8" height="4.8" fill="#000" stroke="none" stroke-width="0"/>
<rect x="399.55" y="121.18" width="4.8" height="4.8" fill="#000" stroke="none" stroke-width="0"/>
<rect x="417.27" y="117.68" width="4.8" height="4.8" fill="#000" stroke="none" stroke-width="0"/>
<rect x="435" y="113.57" width="4.8" height="4.8" fill="#000" stroke="none" stroke-width="0"/>
<rect x="452.74" y="110.68" width="4.8" height="4.8" fill="#000" stroke="none" stroke-width="0"/>
<rect x="470.47" y="126.97" width="4.8" height="4.8" fill="#000" stroke="none" stroke-width="0"/>
<rect x="488.2" y="121.03" width="4.8" height="4.8" fill="#000" stroke="none" stroke-width="0"/>
<polyline fill="none" stroke="#000" stroke-width="1.6" points="295.56,176.7 313.29,135.76 331.02,124.19 348.75,121.91 366.49,118.56 384.21,96.49 401.94,102.73 419.67,109.12 437.4,105.77 455.13,97.56 472.87,97.56 490.6,71.68"/>
<path d="M313.29 133.16 L315.99 138.02 L310.59 138.02Z" fill="#000" stroke="none" stroke-width="0"/>
<path d="M331.02 121.59 L333.72 126.45 L328.32 126.45Z" fill="#000" stroke="none" stroke-width="0"/>
<path d="M348.75 119.31 L351.45 124.17 L346.06 124.17Z" fill="#000" stroke="none" stroke-width="0"/>
<path d="M366.49 115.96 L369.19 120.82 L363.79 120.82Z" fill="#000" stroke="none" stroke-width="0"/>
<path d="M384.21 93.89 L386.91 98.75 L381.51 98.75Z" fill="#000" stroke="none" stroke-width="0"/>
<path d="M401.94 100.13 L404.64 104.99 L399.25 104.99Z" fill="#000" stroke="none" stroke-width="0"/>
<path d="M419.67 106.52 L422.37 111.38 L416.97 111.38Z" fill="#000" stroke="none" stroke-width="0"/>
<path d="M437.4 103.17 L440.1 108.03 L434.7 108.03Z" fill="#000" stroke="none" stroke-width="0"/>
<path d="M455.13 94.96 L457.83 99.82 L452.44 99.82Z" fill="#000" stroke="none" stroke-width="0"/>
<path d="M472.87 94.96 L475.56 99.82 L470.17 99.82Z" fill="#000" stroke="none" stroke-width="0"/>
<path d="M490.6 69.08 L493.3 73.94 L487.9 73.94Z" fill="#000" stroke="none" stroke-width="0"/>
<text x="331.02" y="121.17" font-size="21" text-anchor="middle" font-weight="bold" style="stroke:none">*</text>
<text x="366.49" y="114.38" font-size="21" text-anchor="middle" font-weight="bold" style="stroke:none">*</text>
<text x="384.21" y="90.88" font-size="21" text-anchor="middle" font-weight="bold" style="stroke:none">*</text>
<text x="1.4" y="228" font-size="19.5" text-anchor="start" font-weight="bold" style="stroke:none">C</text>
<line x1="33" y1="237.2" x2="33" y2="379.6" stroke="#8c8c8c" stroke-width="1" />
<line x1="33" y1="379.6" x2="242.4" y2="379.6" stroke="#8c8c8c" stroke-width="1" />
<line x1="30.5" y1="379.6" x2="33" y2="379.6" stroke="#8c8c8c" stroke-width="1" />
<text x="26.6" y="382.7" font-size="8.4" text-anchor="end" font-weight="bold" >0</text>
<line x1="30.5" y1="344" x2="33" y2="344" stroke="#8c8c8c" stroke-width="1" />
<text x="26.6" y="347.1" font-size="8.4" text-anchor="end" font-weight="bold" >1</text>
<line x1="30.5" y1="308.4" x2="33" y2="308.4" stroke="#8c8c8c" stroke-width="1" />
<text x="26.6" y="311.5" font-size="8.4" text-anchor="end" font-weight="bold" >2</text>
<line x1="30.5" y1="272.8" x2="33" y2="272.8" stroke="#8c8c8c" stroke-width="1" />
<text x="26.6" y="275.9" font-size="8.4" text-anchor="end" font-weight="bold" >3</text>
<line x1="30.5" y1="237.2" x2="33" y2="237.2" stroke="#8c8c8c" stroke-width="1" />
<text x="26.6" y="240.3" font-size="8.4" text-anchor="end" font-weight="bold" >4</text>
<line x1="33" y1="379.6" x2="33" y2="382.1" stroke="#8c8c8c" stroke-width="1" />
<line x1="102.8" y1="379.6" x2="102.8" y2="382.1" stroke="#8c8c8c" stroke-width="1" />
<line x1="172.6" y1="379.6" x2="172.6" y2="382.1" stroke="#8c8c8c" stroke-width="1" />
<line x1="242.4" y1="379.6" x2="242.4" y2="382.1" stroke="#8c8c8c" stroke-width="1" />
<rect x="53.7" y="255" width="28.4" height="124.6" fill="#000"/>
<line x1="67.9" y1="253.22" x2="67.9" y2="255" stroke="#000" stroke-width="0.8" />
<line x1="66.4" y1="253.22" x2="69.4" y2="253.22" stroke="#000" stroke-width="0.8" />
<rect x="123.5" y="352.9" width="28.4" height="26.7" fill="#000"/>
<line x1="137.7" y1="350.05" x2="137.7" y2="352.9" stroke="#000" stroke-width="0.8" />
<line x1="136.2" y1="350.05" x2="139.2" y2="350.05" stroke="#000" stroke-width="0.8" />
<rect x="193.3" y="306.62" width="28.4" height="72.98" fill="#000"/>
<line x1="207.5" y1="304.84" x2="207.5" y2="306.62" stroke="#000" stroke-width="0.8" />
<line x1="206" y1="304.84" x2="209" y2="304.84" stroke="#000" stroke-width="0.8" />
<text x="67.9" y="395.1" font-size="8.4" text-anchor="middle" font-weight="bold"  textLength="30.4" lengthAdjust="spacingAndGlyphs">Control</text>
<text x="137.7" y="395.1" font-size="8.4" text-anchor="middle" font-weight="bold"  textLength="43.8" lengthAdjust="spacingAndGlyphs">Antibiotics</text>
<text x="207.5" y="395.1" font-size="8.4" text-anchor="middle" font-weight="bold"  textLength="20.2" lengthAdjust="spacingAndGlyphs"><tspan font-style="italic">L</tspan> GG</text>
<text x="138" y="351.72" font-size="20.5" text-anchor="middle" font-weight="bold" style="stroke:none">*</text>
<text x="207.9" y="303.72" font-size="20.5" text-anchor="middle" font-weight="bold" style="stroke:none">*</text>
<text transform="translate(10.7,309.6) rotate(-90)" font-size="11.2" font-weight="bold" text-anchor="middle">Million CD3+ Cells</text>
<text x="265.2" y="228" font-size="19.5" text-anchor="start" font-weight="bold" style="stroke:none">D</text>
<line x1="303.6" y1="239.8" x2="303.6" y2="377.4" stroke="#8c8c8c" stroke-width="1" />
<line x1="303.6" y1="377.4" x2="517.68" y2="377.4" stroke="#8c8c8c" stroke-width="1" />
<line x1="301.1" y1="377.4" x2="303.6" y2="377.4" stroke="#8c8c8c" stroke-width="1" />
<text x="298.1" y="379.9" font-size="6.9" text-anchor="end" font-weight="bold"  textLength="4" lengthAdjust="spacingAndGlyphs">0</text>
<line x1="301.1" y1="360.2" x2="303.6" y2="360.2" stroke="#8c8c8c" stroke-width="1" />
<text x="298.1" y="362.7" font-size="6.9" text-anchor="end" font-weight="bold"  textLength="11.8" lengthAdjust="spacingAndGlyphs">500</text>
<line x1="301.1" y1="343" x2="303.6" y2="343" stroke="#8c8c8c" stroke-width="1" />
<text x="298.1" y="345.5" font-size="6.9" text-anchor="end" font-weight="bold"  textLength="15.8" lengthAdjust="spacingAndGlyphs">1000</text>
<line x1="301.1" y1="325.8" x2="303.6" y2="325.8" stroke="#8c8c8c" stroke-width="1" />
<text x="298.1" y="328.3" font-size="6.9" text-anchor="end" font-weight="bold"  textLength="15.8" lengthAdjust="spacingAndGlyphs">1500</text>
<line x1="301.1" y1="308.6" x2="303.6" y2="308.6" stroke="#8c8c8c" stroke-width="1" />
<text x="298.1" y="311.1" font-size="6.9" text-anchor="end" font-weight="bold"  textLength="15.8" lengthAdjust="spacingAndGlyphs">2000</text>
<line x1="301.1" y1="291.4" x2="303.6" y2="291.4" stroke="#8c8c8c" stroke-width="1" />
<text x="298.1" y="293.9" font-size="6.9" text-anchor="end" font-weight="bold"  textLength="15.8" lengthAdjust="spacingAndGlyphs">2500</text>
<line x1="301.1" y1="274.2" x2="303.6" y2="274.2" stroke="#8c8c8c" stroke-width="1" />
<text x="298.1" y="276.7" font-size="6.9" text-anchor="end" font-weight="bold"  textLength="15.8" lengthAdjust="spacingAndGlyphs">3000</text>
<line x1="301.1" y1="257" x2="303.6" y2="257" stroke="#8c8c8c" stroke-width="1" />
<text x="298.1" y="259.5" font-size="6.9" text-anchor="end" font-weight="bold"  textLength="15.8" lengthAdjust="spacingAndGlyphs">3500</text>
<line x1="301.1" y1="239.8" x2="303.6" y2="239.8" stroke="#8c8c8c" stroke-width="1" />
<text x="298.1" y="242.3" font-size="6.9" text-anchor="end" font-weight="bold"  textLength="15.8" lengthAdjust="spacingAndGlyphs">4000</text>
<line x1="303.6" y1="377.4" x2="303.6" y2="379.9" stroke="#8c8c8c" stroke-width="1" />
<line x1="339.28" y1="377.4" x2="339.28" y2="379.9" stroke="#8c8c8c" stroke-width="1" />
<line x1="374.96" y1="377.4" x2="374.96" y2="379.9" stroke="#8c8c8c" stroke-width="1" />
<line x1="410.64" y1="377.4" x2="410.64" y2="379.9" stroke="#8c8c8c" stroke-width="1" />
<line x1="446.32" y1="377.4" x2="446.32" y2="379.9" stroke="#8c8c8c" stroke-width="1" />
<line x1="482" y1="377.4" x2="482" y2="379.9" stroke="#8c8c8c" stroke-width="1" />
<line x1="517.68" y1="377.4" x2="517.68" y2="379.9" stroke="#8c8c8c" stroke-width="1" />
<rect x="313.9" y="375.51" width="15" height="1.89" fill="#000"/>
<line x1="321.4" y1="375.16" x2="321.4" y2="375.51" stroke="#000" stroke-width="0.8" />
<line x1="319.9" y1="375.16" x2="322.9" y2="375.16" stroke="#000" stroke-width="0.8" />
<rect x="349.72" y="375.68" width="15" height="1.72" fill="#000"/>
<line x1="357.22" y1="375.34" x2="357.22" y2="375.68" stroke="#000" stroke-width="0.8" />
<line x1="355.72" y1="375.34" x2="358.72" y2="375.34" stroke="#000" stroke-width="0.8" />
<rect x="385.54" y="374.3" width="15" height="3.1" fill="#000"/>
<line x1="393.04" y1="373.79" x2="393.04" y2="374.3" stroke="#000" stroke-width="0.8" />
<line x1="391.54" y1="373.79" x2="394.54" y2="373.79" stroke="#000" stroke-width="0.8" />
<rect x="421.36" y="257.21" width="15" height="120.19" fill="#000"/>
<line x1="428.86" y1="253.08" x2="428.86" y2="257.21" stroke="#000" stroke-width="0.8" />
<line x1="427.36" y1="253.08" x2="430.36" y2="253.08" stroke="#000" stroke-width="0.8" />
<rect x="457.18" y="352.91" width="15" height="24.49" fill="#000"/>
<line x1="464.68" y1="350.84" x2="464.68" y2="352.91" stroke="#000" stroke-width="0.8" />
<line x1="463.18" y1="350.84" x2="466.18" y2="350.84" stroke="#000" stroke-width="0.8" />
<rect x="493" y="318.4" width="15" height="59" fill="#000"/>
<line x1="500.5" y1="306.36" x2="500.5" y2="318.4" stroke="#000" stroke-width="0.8" />
<line x1="499" y1="306.36" x2="502" y2="306.36" stroke="#000" stroke-width="0.8" />
<text x="321.4" y="389.6" font-size="6.9" text-anchor="middle" font-weight="bold"  textLength="24.3" lengthAdjust="spacingAndGlyphs">Control</text>
<text x="357.22" y="389.6" font-size="6.9" text-anchor="middle" font-weight="bold"  textLength="34.6" lengthAdjust="spacingAndGlyphs">Antibiotics</text>
<text x="393.04" y="389.6" font-size="6.9" text-anchor="middle" font-weight="bold"  textLength="34.6" lengthAdjust="spacingAndGlyphs">Probiotics</text>
<text x="428.86" y="389.6" font-size="6.9" text-anchor="middle" font-weight="bold"  textLength="30" lengthAdjust="spacingAndGlyphs">Control +</text>
<text x="428.86" y="398" font-size="6.9" text-anchor="middle" font-weight="bold" >LPS</text>
<text x="464.68" y="389.6" font-size="6.9" text-anchor="middle" font-weight="bold"  textLength="35" lengthAdjust="spacingAndGlyphs">Antibiotics</text>
<text x="464.68" y="398" font-size="6.9" text-anchor="middle" font-weight="bold" >+LPS</text>
<text x="500.5" y="389.6" font-size="6.9" text-anchor="middle" font-weight="bold"  textLength="19.4" lengthAdjust="spacingAndGlyphs"><tspan font-style="italic">L</tspan> GG+</text>
<text x="500.5" y="398" font-size="6.9" text-anchor="middle" font-weight="bold" >LPS</text>
<text x="465.3" y="351.57" font-size="20" text-anchor="middle" font-weight="bold" style="stroke:none">*</text>
<text x="500.9" y="308.17" font-size="20" text-anchor="middle" font-weight="bold" style="stroke:none">*</text>
<text transform="translate(275,309.6) rotate(-90)" font-size="10.9" font-weight="bold" text-anchor="middle" textLength="60" lengthAdjust="spacingAndGlyphs">IFN<tspan font-family="Liberation Serif" font-weight="normal">&#947;</tspan> pg/mL</text>
</svg>
</body></html>
